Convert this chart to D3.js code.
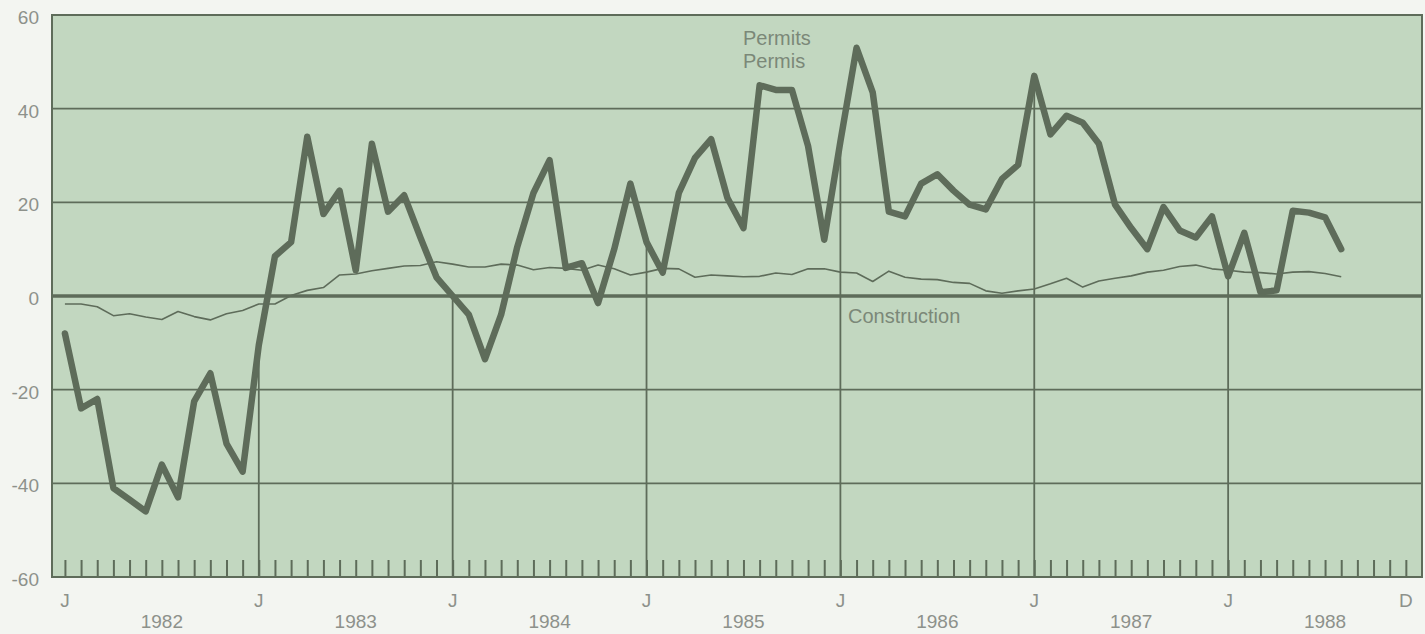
<!DOCTYPE html>
<html><head><meta charset="utf-8">
<script src="https://cdn.jsdelivr.net/npm/d3@7"></script>
<style>
html,body{margin:0;padding:0;background:#f3f5f1;}
svg{display:block;}
text{font-family:"Liberation Sans",Arial,sans-serif;}
</style></head>
<body>
<svg id="chart" width="1425" height="634"></svg>
<script>
// Monthly data, Jan 1982 .. Aug 1988 (year-over-year % change)
const permits = [-8, -24, -22, -41, -43.5, -46, -36, -43, -22.5, -16.5, -31.5, -37.5,
  -10.5, 8.5, 11.5, 34, 17.5, 22.5, 5.5, 32.5, 18, 21.5, 12.5, 4,
  0, -4, -13.5, -4, 10.5, 22, 29, 6, 7, -1.5, 10, 24,
  11.5, 5, 22, 29.5, 33.5, 21, 14.5, 45, 44, 44, 32, 12,
  33, 53, 43.5, 18, 17, 24, 26, 22.5, 19.5, 18.5, 25, 28,
  47, 34.5, 38.5, 37, 32.5, 19.5, 14.5, 10, 19, 14, 12.5, 17,
  4.2, 13.5, 0.8, 1.2, 18.2, 17.8, 16.8, 10];
const construction = [-1.7, -1.7, -2.3, -4.2, -3.8, -4.5, -5, -3.3, -4.4, -5.1, -3.8, -3.1,
  -1.7, -1.7, 0.1, 1.2, 1.8, 4.5, 4.7, 5.4, 5.9, 6.4, 6.5, 7.3,
  6.8, 6.2, 6.2, 6.8, 6.6, 5.6, 6.1, 5.9, 5.5, 6.6, 5.8, 4.5,
  5.1, 5.9, 5.8, 4, 4.5, 4.3, 4.1, 4.2, 4.9, 4.6, 5.8, 5.8,
  5.1, 4.9, 3.1, 5.3, 4, 3.6, 3.5, 2.9, 2.7, 1.1, 0.6, 1.1,
  1.5, 2.6, 3.8, 1.9, 3.2, 3.8, 4.3, 5.1, 5.5, 6.3, 6.6, 5.8,
  5.5, 5.1, 5, 4.7, 5.1, 5.2, 4.8, 4.1];
const years = ["1982", "1983", "1984", "1985", "1986", "1987", "1988"];
const yTicks = [-60, -40, -20, 0, 20, 40, 60];
const monthLabels = ["J", "J", "J", "J", "J", "J", "J", "D"];
const monthLabelIdx = [0, 12, 24, 36, 48, 60, 72, 83];
const seriesLabels = ["Permits", "Permis", "Construction"];

const svg = d3.select("#chart");
const L = 52, R = 1422, T = 15, B = 577;
const x = d3.scaleLinear().domain([-0.8, 84]).range([L, R]);
const y = d3.scaleLinear().domain([-60, 60]).range([B, T]);

const bg = "#c2d7c0", ink = "#5e6c5a", txt = "#8d918b";

svg.append("rect").attr("x", L).attr("y", T).attr("width", R - L).attr("height", B - T).attr("fill", bg);

// horizontal grid
svg.append("g").selectAll("line").data(yTicks.filter(v => v !== 0 && v !== -60 && v !== 60)).join("line")
  .attr("x1", L).attr("x2", R).attr("y1", d => y(d)).attr("y2", d => y(d))
  .attr("stroke", ink).attr("stroke-width", 1.6);

// month ticks along bottom (pointing up)
const months = d3.range(0, 84);
const xAxis = d3.axisBottom(x).tickValues(months).tickSize(-17).tickFormat("");
const gx = svg.append("g").attr("transform", `translate(0,${B})`).call(xAxis);
gx.select(".domain").remove();
gx.selectAll(".tick line").attr("stroke", ink).attr("stroke-width", 2);

// year drop lines from permits value at each January
const jan = d3.range(12, 84, 12).filter(i => i < permits.length);
svg.append("g").selectAll("line").data(jan).join("line")
  .attr("x1", d => x(d)).attr("x2", d => x(d))
  .attr("y1", d => y(permits[d])).attr("y2", B)
  .attr("stroke", ink).attr("stroke-width", 1.8);

// zero line
svg.append("line").attr("x1", L).attr("x2", R).attr("y1", y(0)).attr("y2", y(0))
  .attr("stroke", ink).attr("stroke-width", 3.5);

// frame
svg.append("rect").attr("x", L).attr("y", T).attr("width", R - L).attr("height", B - T)
  .attr("fill", "none").attr("stroke", ink).attr("stroke-width", 2);

// y labels
const yAxis = d3.axisLeft(y).tickValues(yTicks).tickSize(0).tickPadding(0);
const gy = svg.append("g").attr("transform", `translate(${L - 13},0)`).call(yAxis);
gy.select(".domain").remove();
gy.selectAll("text").attr("fill", txt).attr("font-size", 19)
  .attr("font-family", "Liberation Sans, Arial, sans-serif").attr("dy", "0.45em")
  .text(d => d < 0 ? "-" + Math.abs(d) : d);

// lines
const line = d3.line().x((d, i) => x(i)).y(d => y(d));
svg.append("path").datum(construction).attr("d", line).attr("fill", "none")
  .attr("stroke", ink).attr("stroke-width", 1.6).attr("stroke-linejoin", "round");
svg.append("path").datum(permits).attr("d", line).attr("fill", "none")
  .attr("stroke", ink).attr("stroke-width", 6.5).attr("stroke-linejoin", "round").attr("stroke-linecap", "round");

// month letters
svg.append("g").selectAll("text").data(monthLabelIdx).join("text")
  .attr("x", d => x(d)).attr("y", 607).attr("text-anchor", "middle")
  .attr("font-size", 19).attr("fill", txt).text((d, i) => monthLabels[i]);

// years
svg.append("g").selectAll("text").data(years).join("text")
  .attr("x", (d, i) => x(6 + 12 * i)).attr("y", 628).attr("text-anchor", "middle")
  .attr("font-size", 19).attr("fill", txt).text(d => d);

// series labels
svg.append("text").attr("x", 743).attr("y", 45).attr("font-size", 20).attr("fill", "#7b8878").text(seriesLabels[0]);
svg.append("text").attr("x", 743).attr("y", 68).attr("font-size", 20).attr("fill", "#7b8878").text(seriesLabels[1]);
svg.append("text").attr("x", 848).attr("y", 323).attr("font-size", 20).attr("fill", "#7b8878").text(seriesLabels[2]);
</script>
</body></html>
